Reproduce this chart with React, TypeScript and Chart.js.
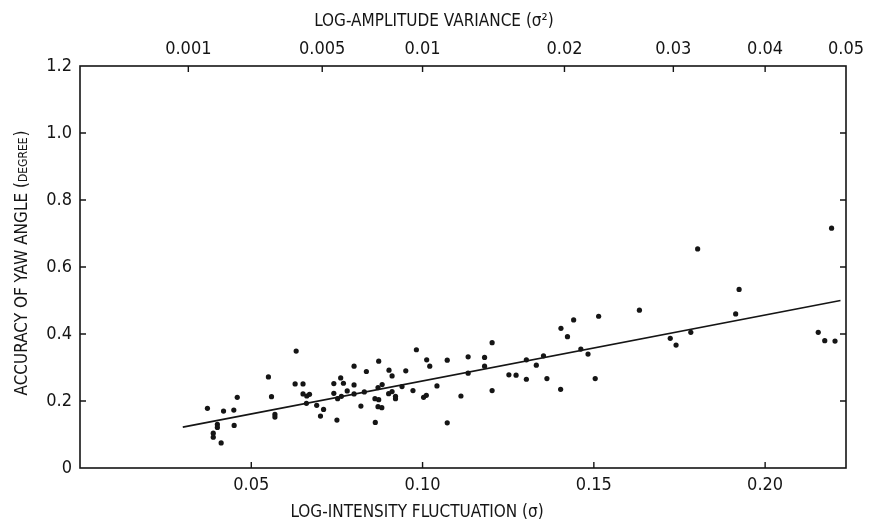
import React, { useEffect, useRef } from "react";
import { Chart, registerables } from "chart.js";

Chart.register(...registerables);

// ---- data ----
const sigma = [
  0.0372, 0.0389, 0.0389, 0.0401, 0.0401, 0.0412, 0.0419, 0.0449, 0.045, 0.0459,
  0.055, 0.0559, 0.0569, 0.0569, 0.0631, 0.0628, 0.0651, 0.0651, 0.0662, 0.067,
  0.0661, 0.0691, 0.0711, 0.0702, 0.0741, 0.0741, 0.0752, 0.075, 0.0761, 0.0769,
  0.0763, 0.078, 0.08, 0.08, 0.08, 0.082, 0.083, 0.0836, 0.0862, 0.0861,
  0.087, 0.0872, 0.0872, 0.087, 0.0881, 0.0882, 0.0901, 0.0902, 0.0911, 0.0911,
  0.0921, 0.0921, 0.094, 0.0951, 0.0972, 0.0982, 0.1003, 0.1011, 0.1012, 0.1021,
  0.1042, 0.1072, 0.1072, 0.1112, 0.1133, 0.1133, 0.1181, 0.1181, 0.1203, 0.1203,
  0.1252, 0.1273, 0.1303, 0.1303, 0.1332, 0.1353, 0.1363, 0.1404, 0.1423, 0.1441,
  0.1403, 0.1462, 0.1483, 0.1504, 0.1514, 0.1633, 0.1803, 0.1723, 0.174, 0.1783,
  0.1924, 0.1914, 0.2194, 0.2155, 0.2174, 0.2204,
];
const accuracy = [
  0.178, 0.104, 0.092, 0.13, 0.121, 0.075, 0.17, 0.173, 0.127, 0.211,
  0.272, 0.213, 0.16, 0.152, 0.349, 0.251, 0.251, 0.221, 0.215, 0.22,
  0.193, 0.187, 0.175, 0.155, 0.252, 0.223, 0.207, 0.143, 0.269, 0.253,
  0.214, 0.23, 0.304, 0.248, 0.221, 0.185, 0.227, 0.288, 0.136, 0.207,
  0.24, 0.319, 0.204, 0.183, 0.18, 0.249, 0.222, 0.292, 0.275, 0.228,
  0.214, 0.207, 0.243, 0.29, 0.231, 0.353, 0.211, 0.217, 0.323, 0.304,
  0.245, 0.322, 0.135, 0.215, 0.332, 0.283, 0.33, 0.304, 0.374, 0.231,
  0.278, 0.277, 0.323, 0.265, 0.307, 0.335, 0.267, 0.417, 0.392, 0.442,
  0.235, 0.355, 0.34, 0.267, 0.453, 0.471, 0.654, 0.387, 0.367, 0.405,
  0.533, 0.46, 0.716, 0.405, 0.38, 0.379,
];
// fitted line end points
const fitSigma = [0.03, 0.222];
const fitAccuracy = [0.122, 0.5];

// axis ticks
const sigmaTicks = [0.05, 0.1, 0.15, 0.2];
const varianceTicks = [0.001, 0.005, 0.01, 0.02, 0.03, 0.04, 0.05];
const varianceLabels = ["0.001", "0.005", "0.01", "0.02", "0.03", "0.04", "0.05"];
const yTicks = [0, 0.2, 0.4, 0.6, 0.8, 1.0, 1.2];

const TOP_TITLE = "LOG-AMPLITUDE VARIANCE (σ²)";
const BOTTOM_TITLE = "LOG-INTENSITY FLUCTUATION (σ)";
const Y_TITLE_A = "ACCURACY OF YAW ANGLE (";
const Y_TITLE_B = "DEGREE";
const Y_TITLE_C = ")";

const FONT = '"DejaVu Sans Condensed", "Liberation Sans Narrow", "DejaVu Sans", sans-serif';
const INK = "#151515";

const framePlugin = {
  id: "frameAndTitles",
  afterDraw(chart: any) {
    const { ctx, chartArea: ca } = chart;
    const xs = chart.scales.x;
    const xt = chart.scales.x2;
    const ys = chart.scales.y;
    const TL = 6;
    ctx.save();
    ctx.strokeStyle = INK;
    ctx.lineWidth = 1.6;
    ctx.strokeRect(ca.left, ca.top, ca.right - ca.left, ca.bottom - ca.top);
    ctx.lineWidth = 1.4;
    ctx.beginPath();
    xs.ticks.forEach((t: any) => {
      const px = xs.getPixelForValue(t.value);
      ctx.moveTo(px, ca.bottom);
      ctx.lineTo(px, ca.bottom - TL);
    });
    xt.ticks.forEach((t: any) => {
      const px = xt.getPixelForValue(t.value);
      if (px > ca.right - 2) return;
      ctx.moveTo(px, ca.top);
      ctx.lineTo(px, ca.top + TL);
    });
    ys.ticks.forEach((t: any) => {
      const py = ys.getPixelForValue(t.value);
      if (py < ca.top + 2 || py > ca.bottom - 2) return;
      ctx.moveTo(ca.left, py);
      ctx.lineTo(ca.left + TL, py);
      ctx.moveTo(ca.right, py);
      ctx.lineTo(ca.right - TL, py);
    });
    ctx.stroke();

    // axis titles
    ctx.fillStyle = INK;
    ctx.font = `17px ${FONT}`;
    ctx.textAlign = "center";
    ctx.textBaseline = "middle";
    const w = ca.right - ca.left;
    ctx.fillText(TOP_TITLE, ca.left + w * 0.462, 22);
    ctx.fillText(BOTTOM_TITLE, ca.left + w * 0.44, 513);

    ctx.translate(21, (ca.top + ca.bottom) / 2 - 4);
    ctx.rotate(-Math.PI / 2);
    ctx.textAlign = "left";
    ctx.textBaseline = "alphabetic";
    ctx.font = `17px ${FONT}`;
    const wa = ctx.measureText(Y_TITLE_A).width;
    const wc = ctx.measureText(Y_TITLE_C).width;
    ctx.font = `12px ${FONT}`;
    const wb = ctx.measureText(Y_TITLE_B).width + 1;
    const total = wa + wb + wc;
    let x0 = -total / 2;
    const base = 6;
    ctx.font = `17px ${FONT}`;
    ctx.fillText(Y_TITLE_A, x0, base);
    x0 += wa;
    ctx.font = `12px ${FONT}`;
    ctx.fillText(Y_TITLE_B, x0, base);
    x0 += wb;
    ctx.font = `17px ${FONT}`;
    ctx.fillText(Y_TITLE_C, x0, base);
    ctx.restore();
  },
};

export default function App() {
  const ref = useRef<HTMLCanvasElement | null>(null);

  useEffect(() => {
    document.body.style.margin = "0";
    const canvas = ref.current;
    if (!canvas) return;
    const xMax = Math.sqrt(varianceTicks[varianceTicks.length - 1]);
    const points = sigma.map((s, i) => ({ x: s, y: accuracy[i] }));
    const fit = fitSigma.map((s, i) => ({ x: s, y: fitAccuracy[i] }));
    const tickFont = { family: FONT, size: 18 };

    const chart = new Chart(canvas, {
      type: "scatter",
      data: {
        datasets: [
          {
            data: points,
            pointRadius: 2.6,
            pointBackgroundColor: INK,
            pointBorderWidth: 0,
            pointHoverRadius: 2.6,
          },
          {
            type: "line",
            data: fit,
            showLine: true,
            borderColor: INK,
            borderWidth: 1.6,
            pointRadius: 0,
            fill: false,
          } as any,
        ],
      },
      options: {
        animation: false,
        responsive: false,
        events: [],
        layout: { padding: { left: 0, right: 28, top: 0, bottom: 0 } },
        plugins: {
          legend: { display: false },
          tooltip: { enabled: false },
          title: { display: false },
        },
        scales: {
          x: {
            type: "linear",
            position: "bottom",
            min: 0,
            max: xMax,
            grid: { display: false, drawTicks: false },
            border: { display: false },
            afterBuildTicks: (s: any) => {
              s.ticks = sigmaTicks.map((v) => ({ value: v }));
            },
            afterFit: (s: any) => {
              s.height = 56;
            },
            ticks: {
              color: INK,
              font: tickFont,
              padding: 7,
              maxRotation: 0,
              autoSkip: false,
              callback: (v: any) => Number(v).toFixed(2),
            },
          },
          x2: {
            type: "linear",
            position: "top",
            min: 0,
            max: xMax,
            grid: { display: false, drawTicks: false },
            border: { display: false },
            afterBuildTicks: (s: any) => {
              s.ticks = varianceTicks.map((v) => ({ value: Math.sqrt(v) }));
            },
            afterFit: (s: any) => {
              s.height = 66;
            },
            ticks: {
              color: INK,
              font: tickFont,
              padding: 6,
              maxRotation: 0,
              autoSkip: false,
              callback: (_v: any, i: number) => varianceLabels[i],
            },
          },
          y: {
            type: "linear",
            position: "left",
            min: 0,
            max: 1.2,
            grid: { display: false, drawTicks: false },
            border: { display: false },
            afterBuildTicks: (s: any) => {
              s.ticks = yTicks.map((v) => ({ value: v }));
            },
            afterFit: (s: any) => {
              s.width = 80;
            },
            ticks: {
              color: INK,
              font: tickFont,
              padding: 8,
              autoSkip: false,
              callback: (v: any) => (Number(v) === 0 ? "0" : Number(v).toFixed(1)),
            },
          },
        },
      },
      plugins: [framePlugin],
    });
    return () => chart.destroy();
  }, []);

  return (
    <div style={{ width: 874, height: 524, background: "#fff" }}>
      <canvas ref={ref} width={874} height={524} style={{ display: "block" }} />
    </div>
  );
}
